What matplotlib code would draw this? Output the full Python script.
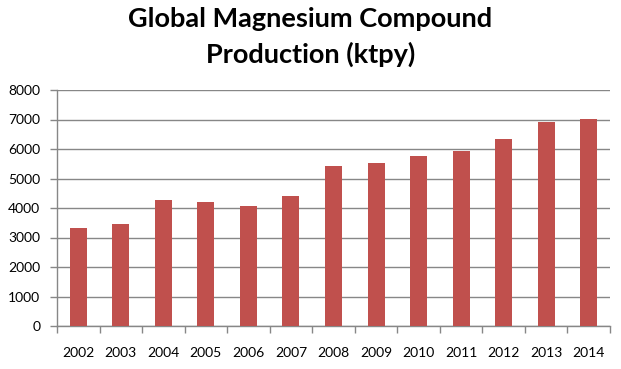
import matplotlib
matplotlib.use("Agg")
import matplotlib.pyplot as plt
import numpy as np

years = ["2002", "2003", "2004", "2005", "2006", "2007", "2008",
         "2009", "2010", "2011", "2012", "2013", "2014"]
production = [3330, 3470, 4280, 4210, 4080, 4420, 5430,
              5540, 5770, 5940, 6350, 6930, 7010]
y_ticks = [0, 1000, 2000, 3000, 4000, 5000, 6000, 7000, 8000]
title = "Global Magnesium Compound\nProduction (ktpy)"

plt.rcParams['font.family'] = ['Lato', 'DejaVu Sans']

fig = plt.figure(figsize=(6.21, 3.69), dpi=100)
ax = fig.add_axes([57/621, 1 - 326/369, (610 - 57)/621, (326 - 90)/369])

x = np.arange(len(years))
ax.bar(x, production, width=0.4, color="#C0504D", zorder=3)

grid_c = "#878787"
ax.set_ylim(0, 8000)
ax.set_xlim(-0.5, len(years) - 0.5)
ax.set_yticks(y_ticks)
ax.set_yticklabels([str(v) for v in y_ticks], fontsize=10)
ax.yaxis.grid(True, color=grid_c, linewidth=1.0, zorder=0)
ax.tick_params(axis='y', length=5, width=1, color=grid_c, pad=7)

ax.set_xticks(x)
ax.set_xticklabels(years, fontsize=10)
ax.tick_params(axis='x', which='major', length=0, pad=15)
ax.set_xticks(np.arange(-0.5, len(years), 1.0), minor=True)
ax.tick_params(axis='x', which='minor', length=5, width=1, color=grid_c)

for s in ['top', 'right']:
    ax.spines[s].set_visible(False)
for s in ['left', 'bottom']:
    ax.spines[s].set_color(grid_c)
    ax.spines[s].set_linewidth(1.0)

fig.text(0.5, 1 - 37/369, title, ha='center', va='center', fontsize=19.5,
         fontweight='bold', linespacing=1.5)

fig.savefig("out.png", dpi=100)
